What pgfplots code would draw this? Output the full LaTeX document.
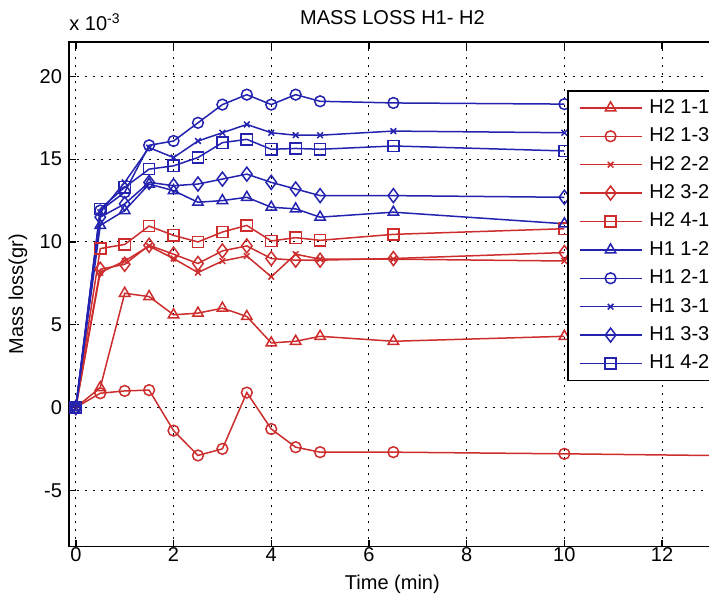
\documentclass[border=0pt]{standalone}
\usepackage{fontspec}
\setmainfont{Liberation Sans}
\usepackage{pgfplots}
\pgfplotsset{compat=1.18}
\definecolor{mred}{RGB}{205,45,45}
\definecolor{mblue}{RGB}{35,35,175}
\begin{document}
\begin{tikzpicture}[font=\fontsize{10}{12}\selectfont]
\begin{axis}[
  name=ax,
  at={(34.5pt,27.75pt)}, anchor=south west,
  scale only axis, width=323.4pt, height=252.4pt,
  xmin=-0.14, xmax=13.1, ymin=-8.4, ymax=22.1,
  xtick={0,2,...,12}, ytick={-5,0,...,20},
  tick pos=both, tick align=inside, major tick length=3.5pt,
  tick style={black, line width=0.7pt},
  grid=major, grid style={black, dash pattern=on 0.8pt off 3.2pt, line width=0.5pt},
  axis line style={line width=0.9pt, black},
  /pgf/number format/assume math mode=true,
  xlabel={Time (min)},
  xlabel style={at={(axis description cs:0.5,0)}, anchor=base, yshift=-21.7pt},
  xticklabel style={anchor=base, yshift=-7.5pt},
  legend style={at={(0.770,0.904)}, anchor=north west, draw=black, line width=0.8pt,
    fill=white, inner xsep=5.5pt, inner ysep=3.7pt, row sep=4.7pt, column sep=3.5pt,
    nodes={inner sep=0pt, text height=7.5pt, text depth=2pt}, cells={anchor=west}},
  legend image code/.code={\draw[line width=0.75pt, mark repeat=2, mark phase=2] plot coordinates {(0pt,0pt) (15.5pt,0pt) (31pt,0pt)};},
  every axis plot/.append style={line width=0.75pt, mark options={solid, line width=0.75pt}},
]
\addplot[mred, mark=triangle, mark size=3pt] coordinates {(0,0) (0.5,1.2) (1,6.9) (1.5,6.7) (2,5.6) (2.5,5.7) (3,6.0) (3.5,5.5) (4,3.9) (4.5,4.0) (5,4.3) (6.5,4.0) (10,4.3)};
\addlegendentry{H2 1-1}
\addplot[mred, mark=o, mark size=2.7pt] coordinates {(0,0) (0.5,0.86) (1,1.0) (1.5,1.05) (2,-1.4) (2.5,-2.9) (3,-2.5) (3.5,0.9) (4,-1.3) (4.5,-2.4) (5,-2.7) (6.5,-2.7) (10,-2.8) (15,-2.97)};
\addlegendentry{H2 1-3}
\addplot[mred, mark=x, mark size=2pt] coordinates {(0,0) (0.5,8.15) (1,8.85) (1.5,9.75) (2,9.0) (2.5,8.15) (3,8.85) (3.5,9.15) (4,7.9) (4.5,9.26) (5,8.96) (6.5,8.96) (10,8.85)};
\addlegendentry{H2 2-2}
\addplot[mred, mark=diamond, mark size=3.5pt] coordinates {(0,0) (0.5,8.35) (1,8.65) (1.5,9.8) (2,9.26) (2.5,8.7) (3,9.46) (3.5,9.76) (4,9.0) (4.5,8.9) (5,8.9) (6.5,9.0) (10,9.36)};
\addlegendentry{H2 3-2}
\addplot[mred, mark=square, mark size=2.8pt] coordinates {(0,0) (0.5,9.6) (1,9.85) (1.5,10.96) (2,10.4) (2.5,10.0) (3,10.6) (3.5,11.0) (4,10.06) (4.5,10.26) (5,10.1) (6.5,10.46) (10,10.8)};
\addlegendentry{H2 4-1}
\addplot[mblue, mark=triangle, mark size=3pt] coordinates {(0,0) (0.5,11.0) (1,11.9) (1.5,13.5) (2,13.1) (2.5,12.4) (3,12.5) (3.5,12.7) (4,12.1) (4.5,12.0) (5,11.5) (6.5,11.8) (10,11.1)};
\addlegendentry{H1 1-2}
\addplot[mblue, mark=o, mark size=2.7pt] coordinates {(0,0) (0.5,11.9) (1,13.0) (1.5,15.84) (2,16.1) (2.5,17.2) (3,18.3) (3.5,18.9) (4,18.3) (4.5,18.9) (5,18.5) (6.5,18.4) (10,18.33)};
\addlegendentry{H1 2-1}
\addplot[mblue, mark=x, mark size=2pt] coordinates {(0,0) (0.5,11.8) (1,13.6) (1.5,15.7) (2,15.1) (2.5,16.1) (3,16.6) (3.5,17.1) (4,16.6) (4.5,16.45) (5,16.45) (6.5,16.7) (10,16.6)};
\addlegendentry{H1 3-1}
\addplot[mblue, mark=diamond, mark size=3.5pt] coordinates {(0,0) (0.5,11.5) (1,12.3) (1.5,13.6) (2,13.4) (2.5,13.5) (3,13.8) (3.5,14.1) (4,13.6) (4.5,13.2) (5,12.8) (6.5,12.8) (10,12.7)};
\addlegendentry{H1 3-3}
\addplot[mblue, mark=square, mark size=2.8pt] coordinates {(0,0) (0.5,12.0) (1,13.3) (1.5,14.4) (2,14.6) (2.5,15.1) (3,16.0) (3.5,16.2) (4,15.6) (4.5,15.65) (5,15.6) (6.5,15.8) (10,15.5)};
\addlegendentry{H1 4-2}
\end{axis}
\node[anchor=base west, inner sep=0pt] at ([yshift=5.5pt]ax.north west) {x 10\textsuperscript{-3}};
\node[anchor=base, inner sep=0pt] at ([yshift=8.4pt]ax.north) {MASS LOSS H1- H2};
\node[rotate=90, anchor=center, inner sep=0pt] at ([xshift=-25.5pt]ax.west) {Mass loss(gr)};
\pgfresetboundingbox
\useasboundingbox (0,0) rectangle (354.5pt,301pt);
\end{tikzpicture}
\end{document}
